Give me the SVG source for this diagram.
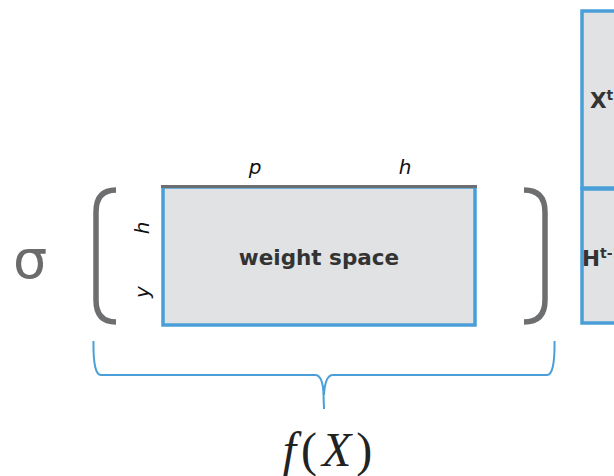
<svg xmlns="http://www.w3.org/2000/svg" width="614" height="476" viewBox="0 0 614 476">
<style>
.box{fill:#e1e2e4;stroke:#4a9fd9;stroke-width:3.5}
.paren{fill:none;stroke:#6d6e70;stroke-width:5.5;stroke-linecap:butt}
.lbl{font-family:"DejaVu Sans",sans-serif;font-style:italic;font-size:20px;fill:#111}
.bold{font-family:"DejaVu Sans",sans-serif;font-weight:bold;font-size:21.5px;fill:#333}
</style>
<rect width="614" height="476" fill="#fff"/>
<g id="sigma"><text x="30" y="278" font-family="DejaVu Sans,sans-serif" font-size="54" fill="#6b6b6b" text-anchor="middle">σ</text></g>
<g id="left-paren"><path class="paren" d="M116,190 Q96,190 96,212 L96,300 Q96,322 116,322"/></g>
<g id="right-paren"><path class="paren" d="M524,190 Q545,190 545,212 L545,300 Q545,322 524,322"/></g>
<g id="weight-space">
<rect class="box" x="163" y="187" width="312" height="138"/>
<line x1="161" y1="186.5" x2="477" y2="186.5" stroke="#6d6e70" stroke-width="3"/>
<text class="bold" x="319" y="265" text-anchor="middle">weight space</text>
</g>
<g id="labels">
<text class="lbl" x="255" y="174" text-anchor="middle">p</text>
<text class="lbl" x="405" y="174" text-anchor="middle">h</text>
<text class="lbl" transform="translate(149,228) rotate(-90)" text-anchor="middle">h</text>
<text class="lbl" transform="translate(149,292) rotate(-90)" text-anchor="middle">y</text>
</g>
<g id="x-block">
<rect class="box" x="582" y="11" width="60" height="177"/>
<text class="bold" x="590" y="108">X<tspan font-size="14" dy="-8">t</tspan></text>
</g>
<g id="h-block">
<rect class="box" x="582" y="189" width="60" height="134"/>
<text class="bold" x="582" y="266">H<tspan font-size="14" dy="-8">t-1</tspan></text>
</g>
<g id="connectors">
<path d="M93.5,341 Q93,375 101,375 L315,375 Q323,375 323.5,395 L324,409 M324,395 Q325,375 333,375 L547,375 Q555,375 554.5,341" fill="none" stroke="#4a9fd9" stroke-width="2"/>
</g>
<g id="fx"><text x="330" y="466" font-family="Liberation Serif,serif" font-style="italic" font-size="48" fill="#222" text-anchor="middle" letter-spacing="5">f<tspan font-style="normal">(</tspan>X<tspan font-style="normal">)</tspan></text></g>
</svg>
